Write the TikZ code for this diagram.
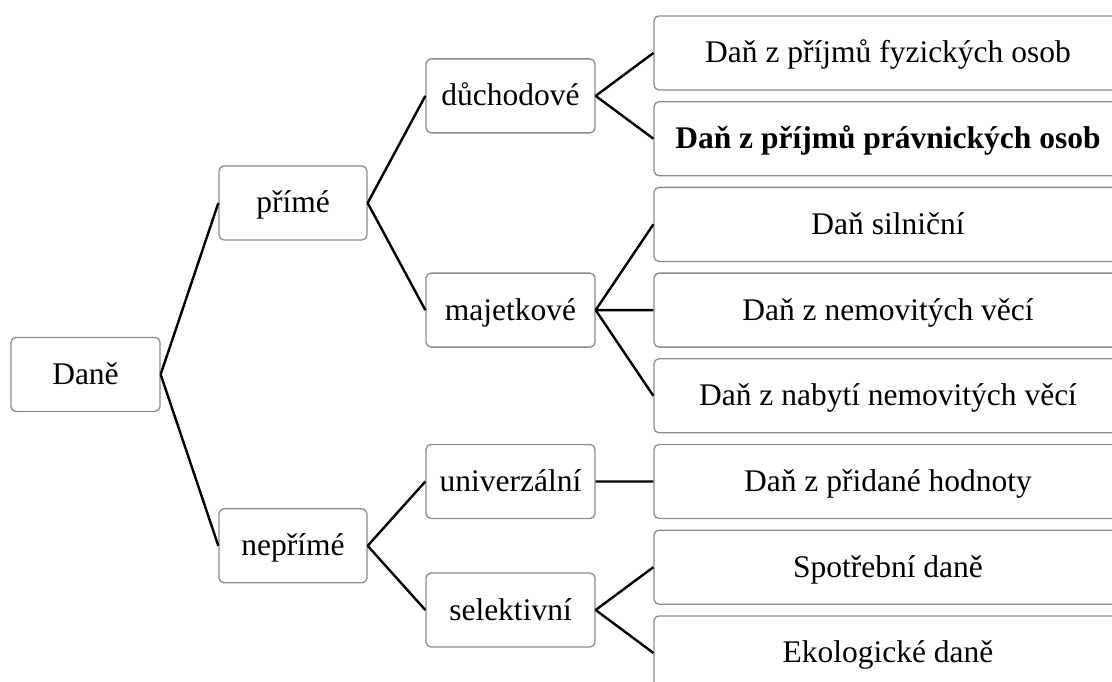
\documentclass[tikz,border=0pt]{standalone}
\usepackage{fontspec}
\setmainfont{Liberation Serif}
\usepackage{tikz}
\usetikzlibrary{positioning}
\definecolor{boxgray}{RGB}{140,140,140}

\begin{document}
\begin{tikzpicture}[x=1pt,y=-1pt,every node/.style={font=\fontsize{31.5}{36}\selectfont}]
\tikzstyle{box}=[draw=boxgray,rounded corners=5pt,line width=1.3pt,fill=white,minimum height=74pt,inner sep=0pt,text height=27pt,text depth=7pt]
\tikzstyle{link}=[line width=2.4pt]
\useasboundingbox (0,0) rectangle (1112,682);
% root and first level
\node[box,minimum width=149pt] (dane) at (85.5,374.4) {Daně};
\node[box,minimum width=148pt] (prime) at (293,203) {přímé};
\node[box,minimum width=148pt] (neprime) at (293,545.8) {nepřímé};
% second level
\node[box,minimum width=169pt] (duch) at (510.5,95.9) {důchodové};
\node[box,minimum width=169pt] (majet) at (510.5,310.1) {majetkové};
\node[box,minimum width=169pt] (univ) at (510.5,481.5) {univerzální};
\node[box,minimum width=169pt] (selek) at (510.5,610) {selektivní};
% leaves
\foreach \i/\t in {1/{Daň z příjmů fyzických osob},2/{\textbf{Daň z příjmů právnických osob}},3/{Daň silniční},4/{Daň z nemovitých věcí},5/{Daň z nabytí nemovitých věcí},6/{Daň z přidané hodnoty},7/{Spotřební daně},8/{Ekologické daně}}{\node[box,minimum width=468pt] (leaf\i) at (888,{53+85.7*(\i-1)}) {\t};}
% connectors
\foreach \a/\b in {dane/prime,dane/neprime,prime/duch,prime/majet,neprime/univ,neprime/selek}{\draw[link] (\a.east)--(\b.west);}
\foreach \b in {leaf1,leaf2}{\draw[link] (duch.east)--(\b.west);}
\foreach \b in {leaf3,leaf4,leaf5}{\draw[link] (majet.east)--(\b.west);}
\draw[link] (univ.east)--(leaf6.west);
\foreach \b in {leaf7,leaf8}{\draw[link] (selek.east)--(\b.west);}
\end{tikzpicture}
\end{document}
